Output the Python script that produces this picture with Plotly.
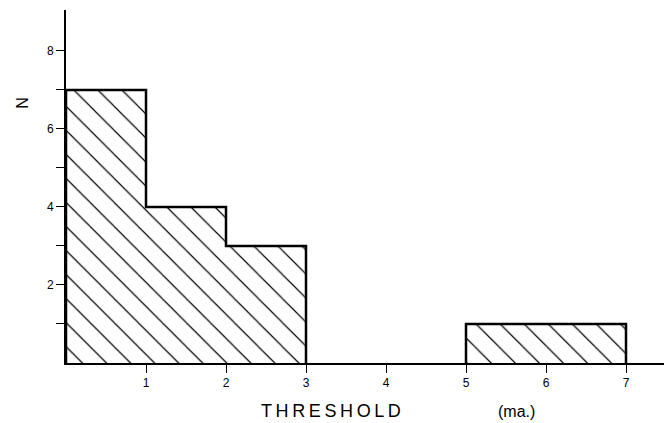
import plotly.graph_objects as go

# Histogram bins (threshold in ma.) and counts
bin_left = [0, 1, 2, 3, 5]
bin_right = [1, 2, 3, 5, 7]
counts = [7, 4, 3, 0, 1]

y_tick_vals = [1, 2, 3, 4, 5, 6, 7, 8]
y_tick_text = ["", "2", "", "4", "", "6", "", "8"]
x_tick_vals = [1, 2, 3, 4, 5, 6, 7]
x_tick_text = ["1", "2", "3", "4", "5", "6", "7"]

widths = [r - l for l, r in zip(bin_left, bin_right)]

fig = go.Figure()
fig.add_trace(go.Bar(
    x=bin_left, y=counts, width=widths, offset=0,
    marker=dict(color="rgba(0,0,0,0)", line=dict(width=0),
                pattern=dict(shape="\\", size=17, solidity=0.07,
                             fgcolor="black", bgcolor="white", fillmode="replace")),
    showlegend=False, hoverinfo="skip",
))

# staircase outline built from the bins; gaps where count is zero
ox, oy = [], []
prev = 0
for l, r, c in zip(bin_left, bin_right, counts):
    if c == 0:
        if prev != 0:
            ox += [l]
            oy += [0]
        ox.append(None)
        oy.append(None)
        prev = 0
        continue
    if prev == 0:
        ox += [l]
        oy += [0]
    ox += [l, r, r]
    oy += [c, c, None]
    # replace trailing None with a vertical step handled by next bin
    ox.pop()
    oy.pop()
    prev = c
if prev != 0:
    ox.append(bin_right[-1])
    oy.append(0)

fig.add_trace(go.Scatter(x=ox, y=oy, mode="lines", line=dict(color="black", width=2.5),
                         connectgaps=False, showlegend=False, hoverinfo="skip"))

fig.update_layout(
    width=664, height=423,
    margin=dict(l=66, r=0, t=10, b=60),
    paper_bgcolor="white", plot_bgcolor="white",
    font=dict(family="Liberation Sans, Arial, sans-serif", color="black", size=11),
    bargap=0,
    xaxis=dict(range=[0, 7.475], showgrid=False, zeroline=False, showline=True,
               linecolor="black", linewidth=1.5, ticks="outside", ticklen=8, tickwidth=1.2,
               tickcolor="black", tickvals=x_tick_vals, ticktext=x_tick_text,
               tickfont=dict(size=12, color="black")),
    yaxis=dict(range=[0, 9.05], showgrid=False, zeroline=False, showline=True,
               linecolor="black", linewidth=2, ticks="outside", ticklen=8, tickwidth=1.2,
               tickcolor="black", tickvals=y_tick_vals, ticktext=y_tick_text,
               tickfont=dict(size=12, color="black")),
    annotations=[
        dict(text="T\u2009H\u2009R\u2009E\u2009S\u2009H\u2009O\u2009L\u2009D", xref="paper", yref="paper",
             x=0.443, y=-0.136, showarrow=False, font=dict(size=18, color="black"),
             xanchor="center", yanchor="middle"),
        dict(text="(ma.)", xref="paper", yref="paper",
             x=0.754, y=-0.136, showarrow=False, font=dict(size=16, color="black"),
             xanchor="center", yanchor="middle"),
        dict(text="N", xref="paper", yref="paper", x=-0.072, y=0.737, showarrow=False,
             textangle=-90, font=dict(size=16, color="black"), xanchor="center", yanchor="middle"),
    ],
)

fig.write_html("out.html")
